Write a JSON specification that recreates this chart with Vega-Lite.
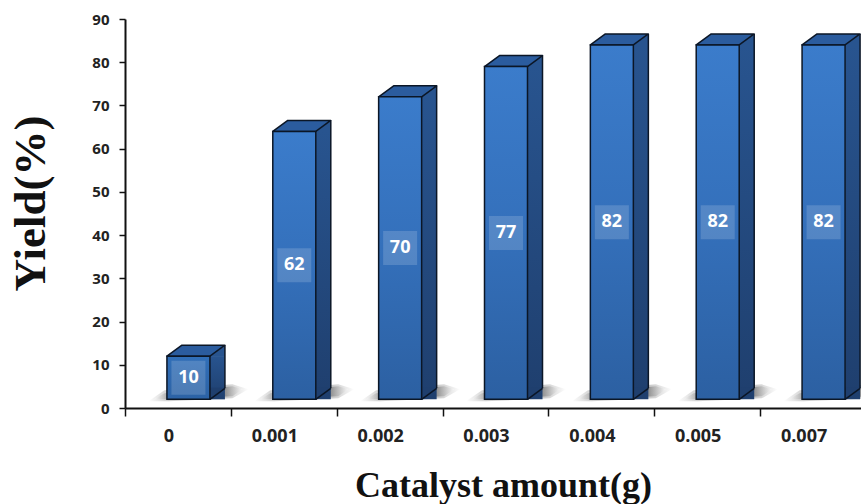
{
  "$schema": "https://vega.github.io/schema/vega-lite/v6.json",
  "width": 736,
  "height": 389,
  "autosize": {"type": "none"},
  "padding": {"left": 125, "top": 19, "right": 0, "bottom": 96},
  "background": "white",
  "view": {"stroke": null},
  "data": {
    "values": [
      {"catalyst": "0", "yield": 10},
      {"catalyst": "0.001", "yield": 62},
      {"catalyst": "0.002", "yield": 70},
      {"catalyst": "0.003", "yield": 77},
      {"catalyst": "0.004", "yield": 82},
      {"catalyst": "0.005", "yield": 82},
      {"catalyst": "0.007", "yield": 82}
    ]
  },
  "encoding": {
    "x": {
      "field": "catalyst",
      "type": "nominal",
      "sort": null,
      "scale": {"range": [0, 741], "paddingInner": 0, "paddingOuter": 0},
      "axis": {
        "title": "Catalyst amount(g)",
        "titleFont": "Liberation Serif",
        "titleFontSize": 36,
        "titleFontWeight": "bold",
        "titleColor": "#111111",
        "titleX": 378,
        "titleY": 88,
        "titleBaseline": "alphabetic",
        "titleAnchor": "middle",
        "titleAlign": "center",
        "labelAngle": 0,
        "labelFont": "Open Sans",
        "labelFontSize": 18,
        "labelFontWeight": "bold",
        "labelColor": "#222222",
        "labelOffset": -9.5,
        "labelPadding": 11,
        "tickBand": "extent",
        "tickSize": 8,
        "tickWidth": 1.5,
        "tickColor": "#111111",
        "domainColor": "#111111",
        "domainWidth": 2,
        "grid": false
      }
    },
    "y": {
      "field": "yield",
      "type": "quantitative",
      "scale": {"domain": [0, 90], "nice": false},
      "axis": {
        "title": "Yield(%)",
        "titleFont": "Liberation Serif",
        "titleFontSize": 45,
        "titleFontWeight": "bold",
        "titleColor": "#111111",
        "titleX": -81,
        "titleY": 184,
        "titleAngle": -90,
        "titleBaseline": "alphabetic",
        "titleAlign": "center",
        "values": [0, 10, 20, 30, 40, 50, 60, 70, 80, 90],
        "labelFont": "Open Sans",
        "labelFontSize": 15,
        "labelFontWeight": "bold",
        "labelColor": "#222222",
        "labelPadding": 10,
        "tickSize": 6,
        "tickWidth": 1.5,
        "tickColor": "#111111",
        "domainColor": "#111111",
        "domainWidth": 2,
        "grid": false
      }
    }
  },
  "layer": [
    {
      "description": "soft floor shadow, outer wash",
      "mark": {
        "type": "point",
        "filled": true,
        "opacity": 0.35,
        "size": 4,
        "xOffset": 10.5,
        "yOffset": -8.64,
        "shape": "M-40 2 L-24 -9 L44 -15 L60 -10 L44 -1 L-20 2 Z",
        "fill": {
          "gradient": "linear",
          "x1": 0, "x2": 1, "y1": 0, "y2": 0,
          "stops": [
            {"offset": 0, "color": "#ffffff"},
            {"offset": 0.2, "color": "#777777"},
            {"offset": 0.78, "color": "#666666"},
            {"offset": 1, "color": "#ffffff"}
          ]
        },
        "stroke": null
      },
      "encoding": {"y": {"datum": 0}}
    },
    {
      "description": "soft floor shadow, inner core",
      "mark": {
        "type": "point",
        "filled": true,
        "opacity": 0.55,
        "size": 4,
        "xOffset": 10.5,
        "yOffset": -8.64,
        "shape": "M-34 0 L-24 -6 L44 -13 L54 -10 L44 -3 L-20 0 Z",
        "fill": {
          "gradient": "linear",
          "x1": 0, "x2": 1, "y1": 0, "y2": 0,
          "stops": [
            {"offset": 0, "color": "#ffffff"},
            {"offset": 0.18, "color": "#777777"},
            {"offset": 0.8, "color": "#666666"},
            {"offset": 1, "color": "#ffffff"}
          ]
        },
        "stroke": null
      },
      "encoding": {"y": {"datum": 0}}
    },
    {
      "description": "side face body",
      "mark": {
        "type": "bar",
        "width": 15,
        "xOffset": 39.5,
        "yOffset": -8.64,
        "y2Offset": -19.64,
        "fill": {
          "gradient": "linear",
          "x1": 0, "x2": 0, "y1": 0, "y2": 1,
          "stops": [
            {"offset": 0, "color": "#28548f"},
            {"offset": 1, "color": "#1f3f6e"}
          ]
        }
      }
    },
    {
      "description": "side face upper corner",
      "mark": {
        "type": "point",
        "filled": true,
        "opacity": 1,
        "size": 4,
        "xOffset": 10.5,
        "yOffset": -8.64,
        "shape": "M21.5 0 L36.5 -11 L36.5 0.5 L21.5 0.5 Z",
        "fill": "#28548f",
        "stroke": null
      }
    },
    {
      "description": "side face lower corner",
      "mark": {
        "type": "point",
        "filled": true,
        "opacity": 1,
        "size": 4,
        "xOffset": 10.5,
        "yOffset": -8.64,
        "shape": "M21.5 -11.5 L36.5 -11.5 L36.5 -11 L21.5 0 Z",
        "fill": "#1f3f6e",
        "stroke": null
      },
      "encoding": {"y": {"datum": 0}}
    },
    {
      "description": "rear vertical edge of the side face",
      "mark": {
        "type": "rule",
        "xOffset": 47,
        "yOffset": -19.64,
        "y2Offset": -19.64,
        "stroke": "#0b1626",
        "strokeWidth": 1.5
      },
      "encoding": {"y": {"field": "yield", "type": "quantitative"}, "y2": {"datum": 0}}
    },
    {
      "description": "top face of each column",
      "mark": {
        "type": "point",
        "filled": true,
        "opacity": 1,
        "size": 4,
        "xOffset": 10.5,
        "yOffset": -8.64,
        "shape": "M-21.5 0 L-6.5 -11 L36.5 -11 L21.5 0 Z",
        "fill": "#2b5c9e",
        "stroke": "#0b1626",
        "strokeWidth": 1.5,
        "strokeJoin": "round"
      }
    },
    {
      "description": "bottom edge of the side face",
      "mark": {
        "type": "point",
        "filled": false,
        "opacity": 1,
        "size": 4,
        "xOffset": 10.5,
        "yOffset": -8.64,
        "shape": "M21.5 0 L36.5 -11",
        "stroke": "#0b1626",
        "strokeWidth": 1.5
      },
      "encoding": {"y": {"datum": 0}}
    },
    {
      "description": "front face carrying the yield value",
      "mark": {
        "type": "bar",
        "width": 43,
        "xOffset": 10.5,
        "yOffset": -8.64,
        "y2Offset": -8.64,
        "stroke": "#0b1626",
        "strokeWidth": 1.5
      },
      "encoding": {
        "fill": {
          "condition": {
            "test": "datum.yield < 20",
            "value": {
              "gradient": "linear",
              "x1": 0, "x2": 0, "y1": 0, "y2": 1,
              "stops": [
                {"offset": 0, "color": "#316fb8"},
                {"offset": 1, "color": "#2c62a5"}
              ]
            }
          },
          "value": {
            "gradient": "linear",
            "x1": 0, "x2": 0, "y1": 0, "y2": 1,
            "stops": [
              {"offset": 0, "color": "#3b7ccb"},
              {"offset": 0.5, "color": "#3470bb"},
              {"offset": 1, "color": "#2c60a2"}
            ]
          }
        }
      }
    },
    {
      "description": "value labels at mid height of each column",
      "transform": [{"calculate": "datum.yield / 2", "as": "mid"}],
      "layer": [
        {
          "mark": {
            "type": "point",
            "shape": "square",
            "filled": true,
            "size": 1156,
            "xOffset": 10.5,
            "yOffset": -8.64,
            "fill": "#ffffff",
            "opacity": 0.16,
            "stroke": null
          },
          "encoding": {"y": {"field": "mid", "type": "quantitative"}}
        },
        {
          "mark": {
            "type": "text",
            "font": "Open Sans",
            "fontSize": 18,
            "fontWeight": "bold",
            "fill": "#ffffff",
            "xOffset": 10.5,
            "yOffset": -8.64,
            "baseline": "middle",
            "align": "center"
          },
          "encoding": {
            "y": {"field": "mid", "type": "quantitative"},
            "text": {"field": "yield", "type": "quantitative"}
          }
        }
      ]
    }
  ]
}
